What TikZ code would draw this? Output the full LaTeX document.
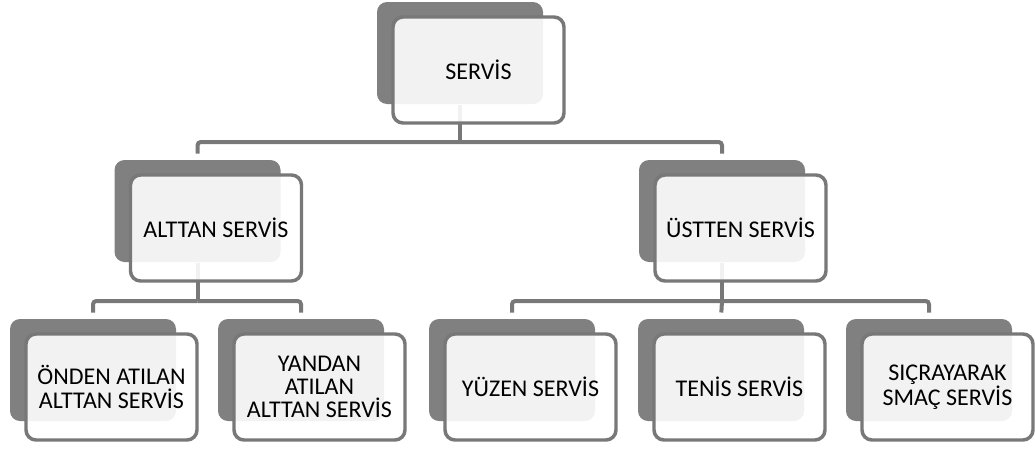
\documentclass[tikz,border=0pt]{standalone}
\usepackage{fontspec}
\setmainfont{Carlito}
\usetikzlibrary{backgrounds}

\definecolor{boxgray}{RGB}{128,128,128}
\definecolor{linegray}{RGB}{120,120,120}

\tikzset{every picture/.style={line width=0.75pt}}
\tikzset{
	backbox/.style={draw=none, fill=boxgray, rounded corners=7.5, minimum width=124.5pt, minimum height=76.5pt, inner sep=0pt},
	frontbox/.style={draw=linegray, line width=2.6pt, fill=white, fill opacity=0.9, text opacity=1, rounded corners=7.5, minimum width=128.25pt, minimum height=79.5pt, inner sep=0pt, align=center, font=\fontsize{18}{17.5}\selectfont},
	link/.style={draw=linegray, line width=3pt, rounded corners=2.5},
	linkin/.style={link, shorten >=4.5pt}
}

\begin{document}
\begin{tikzpicture}[x=0.75pt,y=0.75pt,yscale=-1,xscale=1]
	\useasboundingbox (0,0) rectangle (1035,450);
	
	%Top level
	\node [backbox] (servisb) at (460,53) {};
	\node [frontbox] (servis) at (478.5,70) {SERVİS};
	
	%Second level
	\node [backbox] (alttanb) at (197.5,211) {};
	\node [frontbox] (alttan) at (216,228) {ALTTAN SERVİS};
	\node [backbox] (usttenb) at (722,211) {};
	\node [frontbox] (ustten) at (740.5,228) {ÜSTTEN SERVİS};
	
	%Third level
	\node [backbox] (ondenb) at (93,370) {};
	\node [frontbox] (onden) at (111.5,387) {ÖNDEN ATILAN\\ALTTAN SERVİS};
	\node [backbox] (yandanb) at (301,370) {};
	\node [frontbox] (yandan) at (319.5,387) {YANDAN\\ATILAN\\ALTTAN SERVİS};
	\node [backbox] (yuzenb) at (512,370) {};
	\node [frontbox] (yuzen) at (530.5,387) {YÜZEN SERVİS};
	\node [backbox] (tenisb) at (721,370) {};
	\node [frontbox] (tenis) at (739.5,387) {TENİS SERVİS};
	\node [backbox] (smacb) at (929,370) {};
	\node [frontbox] (smac) at (947.5,387) {SIÇRAYARAK\\SMAÇ SERVİS};
	
	%Connectors
	\coordinate (j0) at (460,142);
	\coordinate (j1) at (197.5,301);
	\coordinate (j2) at (722,301);
	\begin{scope}[on background layer]
		\draw [link] (servisb.south) -- (j0);
		\draw [linkin] (j0) -| (alttanb.north);
		\draw [linkin] (j0) -| (usttenb.north);
		\draw [link] (alttanb.south) -- (j1);
		\draw [linkin] (j1) -| (ondenb.north);
		\draw [linkin] (j1) -| (yandanb.north);
		\draw [link] (usttenb.south) -- (j2);
		\draw [linkin] (j2) -| (yuzenb.north);
		\draw [linkin] (j2) -- (tenisb.north);
		\draw [linkin] (j2) -| (smacb.north);
	\end{scope}
	
\end{tikzpicture}
\end{document}
